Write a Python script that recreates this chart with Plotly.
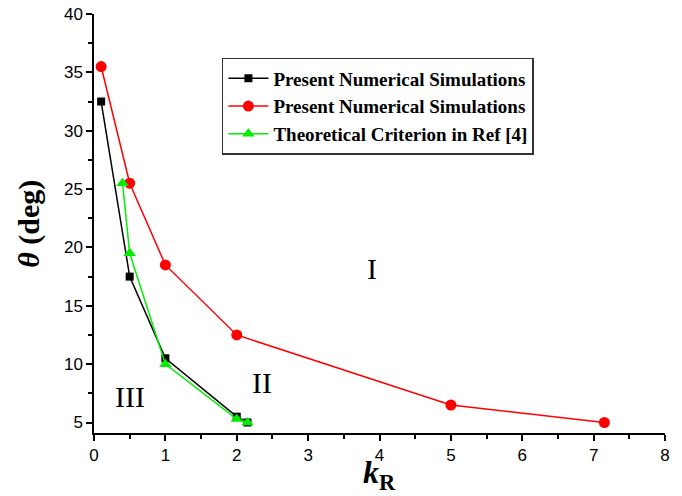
import plotly.graph_objects as go

black_x = [0.1, 0.5, 1.0, 2.0, 2.15]
black_y = [32.5, 17.5, 10.5, 5.5, 5.0]
red_x = [0.1, 0.5, 1.0, 2.0, 5.0, 7.15]
red_y = [35.5, 25.5, 18.5, 12.5, 6.5, 5.0]
green_x = [0.4, 0.5, 1.0, 2.0, 2.15]
green_y = [25.5, 19.5, 10.0, 5.3, 5.0]
names = ["Present Numerical Simulations", "Present Numerical Simulations",
         "Theoretical Criterion in Ref [4]"]
region_labels = ["I", "II", "III"]
region_x = [3.9, 2.35, 0.5]
region_y = [18.2, 8.4, 7.2]
x_title = "<b><i>k</i><sub>R</sub></b>"
y_title = "<b><i>θ</i> (deg)</b>"

fig = go.Figure()
fig.add_trace(go.Scatter(x=black_x, y=black_y, mode="lines+markers", name="<b>" + names[0] + "</b>",
                         line=dict(color="black", width=1.5),
                         marker=dict(symbol="square", size=8, color="black")))
fig.add_trace(go.Scatter(x=red_x, y=red_y, mode="lines+markers", name="<b>" + names[1] + "</b>",
                         line=dict(color="red", width=1.5),
                         marker=dict(symbol="circle", size=11, color="red")))
fig.add_trace(go.Scatter(x=green_x, y=green_y, mode="lines+markers", name="<b>" + names[2] + "</b>",
                         line=dict(color="#00ee00", width=1.5),
                         marker=dict(symbol="triangle-up", size=11, color="#00ee00")))

for t, x, y in zip(region_labels, region_x, region_y):
    fig.add_annotation(x=x, y=y, text=t, showarrow=False,
                       font=dict(family="Liberation Serif", size=30, color="black"))

fig.add_annotation(xref="paper", yref="paper", x=0.5, y=-0.1, text=x_title,
                   showarrow=False, xanchor="center", yanchor="middle",
                   font=dict(family="Liberation Serif", size=32, color="black"))
fig.add_annotation(xref="paper", yref="paper", x=-0.115, y=0.5, text=y_title,
                   showarrow=False, xanchor="center", yanchor="middle", textangle=-90,
                   font=dict(family="Liberation Serif", size=30, color="black"))

axis_common = dict(showline=True, linecolor="black", linewidth=1.5, showgrid=False,
                   zeroline=False, ticks="outside", ticklen=6, tickwidth=1.5,
                   tickcolor="black", mirror=False, automargin=False,
                   tickfont=dict(family="Liberation Sans", size=17, color="black"))

fig.update_xaxes(range=[0, 8], dtick=1,
                 minor=dict(dtick=0.5, ticks="outside", ticklen=4, tickwidth=1.5, tickcolor="black"),
                 **axis_common)
fig.update_yaxes(range=[4.1, 40], tick0=5, dtick=5,
                 minor=dict(dtick=2.5, tick0=5, ticks="outside", ticklen=4, tickwidth=1.5, tickcolor="black"),
                 **axis_common)

fig.update_layout(
    width=682, height=496,
    margin=dict(l=94, r=17, t=14, b=63),
    plot_bgcolor="white", paper_bgcolor="white",
    showlegend=True,
    legend=dict(x=0.224, y=0.895, xanchor="left", yanchor="top",
                bordercolor="#333333", borderwidth=1.5, bgcolor="white",
                font=dict(family="Liberation Serif", size=19, color="black"),
                tracegroupgap=0, itemwidth=40),
)

fig.write_html("out.html", config={"displayModeBar": False},
               post_script="document.body.style.margin='0';")
